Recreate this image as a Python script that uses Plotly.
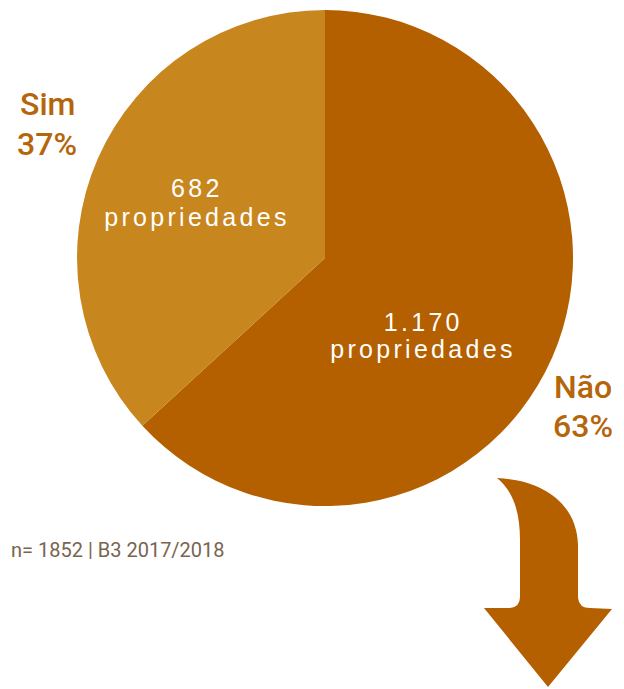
import plotly.graph_objects as go

W, H = 624, 689

# ---- data ----
labels = ["Não", "Sim"]
values = [1170, 682]
percent_text = ["63%", "37%"]
count_text = ["1.170", "682"]
unit_text = "propriedades"
footnote = "n= 1852 | B3 2017/2018"

# ---- styles ----
c_nao = "#B45F00"
c_sim = "#C8861E"
c_label = "#B5650A"
c_note = "#7A6450"

def px(x):
    return x / W

def py(y):
    return 1 - y / H

fig = go.Figure()
fig.add_trace(go.Pie(
    labels=labels, values=values, sort=False, direction="clockwise", rotation=0,
    marker=dict(colors=[c_nao, c_sim], line=dict(width=0)),
    textinfo="none", hoverinfo="label+value+percent", showlegend=False,
    domain=dict(x=[px(77), px(573)], y=[py(506), py(10)]),
))

ann = []
# outside labels
for txt, x, y in [(labels[1], 47, 104), (percent_text[1], 47, 144),
                  (labels[0], 583, 387), (percent_text[0], 583, 426)]:
    ann.append(dict(text=txt, x=px(x), y=py(y), xref="paper", yref="paper",
                    showarrow=False, xanchor="center", yanchor="middle",
                    font=dict(family="Roboto", size=32, color=c_label, weight=500)))
# inside labels
for txt, x, y in [(count_text[1], 197, 188), (unit_text, 197, 217),
                  (count_text[0], 423, 322), (unit_text, 423, 349)]:
    ann.append(dict(text=txt, x=px(x), y=py(y), xref="paper", yref="paper",
                    showarrow=False, xanchor="center", yanchor="middle",
                    font=dict(family="Liberation Sans", size=25, color="white")))
ann.append(dict(text=footnote, x=px(9), y=py(550), xref="paper", yref="paper",
                showarrow=False, xanchor="left", yanchor="middle",
                font=dict(family="Roboto", size=20, color=c_note)))

# curved arrow (decoration)
def P(x, y):
    return f"{px(x):.5f},{py(y):.5f}"

path = (f"M {P(497,478)} C {P(545,480)} {P(577,505)} {P(578,545)} "
        f"L {P(578,598)} Q {P(579,608)} {P(590,608)} L {P(612,609)} "
        f"L {P(548,687)} L {P(484,608)} L {P(510,608)} "
        f"Q {P(520,607)} {P(520,597)} L {P(520,540)} "
        f"C {P(520,510)} {P(512,490)} {P(497,478)} Z")
shapes = [dict(type="path", path=path, xref="paper", yref="paper",
               fillcolor=c_nao, line=dict(width=0))]

fig.update_layout(width=W, height=H, margin=dict(l=0, r=0, t=0, b=0),
                  paper_bgcolor="white", plot_bgcolor="white",
                  annotations=ann, shapes=shapes)

post = """
document.body.style.margin = '0';
document.body.style.overflow = 'hidden';
var gd = document.getElementsByClassName('plotly-graph-div')[0];
function spaceIt(){
  var ts = gd.querySelectorAll('text.annotation-text');
  ts.forEach(function(t){
    var s = t.textContent;
    if (s === 'propriedades' || s === '682' || s === '1.170') {
      t.style.letterSpacing = '3.3px';
    }
  });
}
spaceIt();
gd.on('plotly_afterplot', spaceIt);
"""
fig.write_html("out.html", post_script=post, config={"displayModeBar": False})
